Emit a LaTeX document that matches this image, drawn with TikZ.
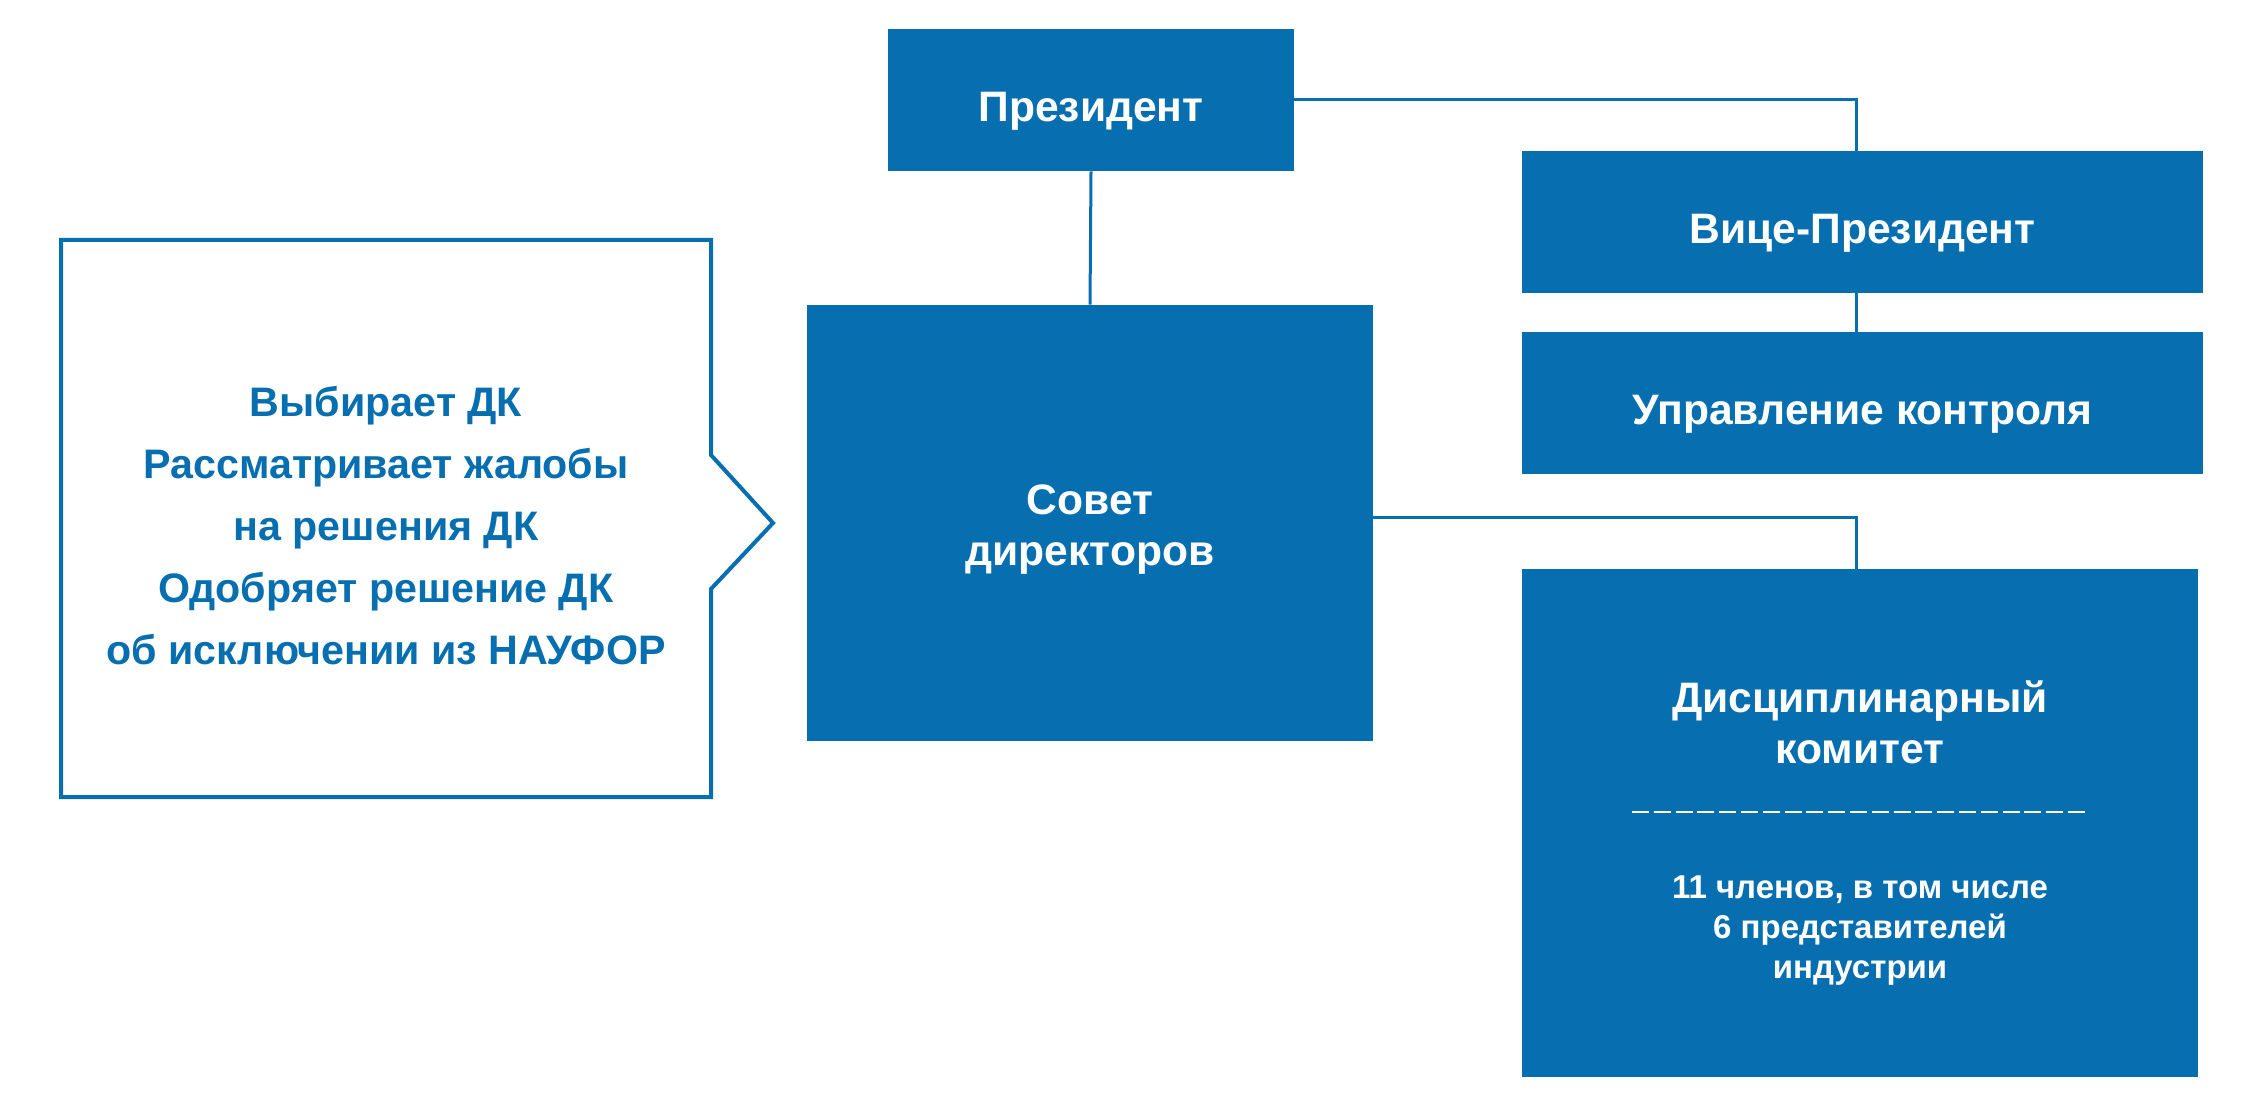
\documentclass[tikz,border=0pt]{standalone}
\usepackage{fontspec}
\setmainfont{Liberation Sans}
\usetikzlibrary{calc}
\definecolor{nblue}{HTML}{076EB0}
\tikzset{
  box/.style={fill=nblue, draw=none, inner sep=0pt},
  title/.style={text=white, font=\bfseries\fontsize{21.3}{25.5}\selectfont, align=center, inner sep=0pt},
  link/.style={draw=nblue, line width=1.5pt},
}
\begin{document}
\begin{tikzpicture}[x=0.5pt,y=-0.5pt]
\useasboundingbox (0,0) rectangle (2247,1112);
% boxes
\node[box, minimum width=203pt, minimum height=71pt] (pres) at (1091,100) {};
\node[title] (prest) at ([yshift=-5.5pt]pres.center) {Президент};
\node[box, minimum width=283pt, minimum height=218pt] (sovet) at (1090,523) {};
\node[title] (sovett) at (1090,530) {Совет\\директоров};
\node[box, minimum width=340.5pt, minimum height=71pt] (vp) at (1862.5,222) {};
\node[title] (vpt) at ([yshift=-5.5pt]vp.center) {Вице-Президент};
\node[box, minimum width=340.5pt, minimum height=71pt] (uk) at (1862.5,403) {};
\node[title] (ukt) at ([yshift=-5.5pt]uk.center) {Управление контроля};
\node[box, minimum width=338pt, minimum height=254pt] (dk) at (1860,823) {};
\node[title] (dkt) at (1860,722) {Дисциплинарный\\комитет};
\node[text=white, font=\bfseries\fontsize{16.5}{20}\selectfont, align=center] (dkm) at (1860,931) {11 членов, в том числе\\6 представителей\\индустрии};
\coordinate (dl1) at (1632,812);
\coordinate (dl2) at (2088,812);
\draw[white, line width=1pt, dash pattern=on 8.5pt off 2.4pt] (dl1) -- (dl2);
% left callout
\draw[nblue, line width=2pt, line join=miter] (711,455) -- (711,240) -- (61,240) -- (61,797) -- (711,797) -- (711,589) -- (773,523) -- cycle;
\node[text=nblue, font=\bfseries\fontsize{20.6}{31}\selectfont, align=center] (tasks) at (386,526) {Выбирает ДК\\Рассматривает жалобы\\на решения ДК\\Одобряет решение ДК\\об исключении из НАУФОР};
% connectors
\coordinate (vptop) at ([xshift=-3pt]vp.north);
\coordinate (dktop) at ([xshift=-2pt]dk.north);
\draw[link] (pres.south) -- (sovet.north);
\draw[link] (pres.east) -| (vptop);
\draw[link] (vp.south -| vptop) -- (uk.north -| vptop);
\draw[link] (sovet.east |- 0,517) -| (dktop);
\end{tikzpicture}
\end{document}
